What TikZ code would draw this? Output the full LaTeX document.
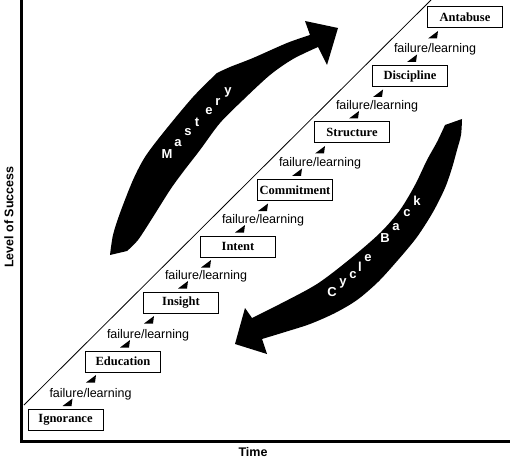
\documentclass[tikz,border=0pt]{standalone}
\usepackage{fontspec}
\setmainfont{Liberation Serif}
\newfontfamily\sansf{Liberation Sans}
\usetikzlibrary{calc}
\begin{document}
\begin{tikzpicture}[x=1pt,y=-1pt,
  stage/.style={draw, line width=1pt, minimum width=75pt, minimum height=21pt, inner sep=0pt,
    font=\fontsize{12.5}{14}\selectfont\bfseries},
  fl/.style={font=\sansf\fontsize{12.5}{14}\selectfont, inner sep=0pt, anchor=base},
  bigletter/.style={font=\sansf\bfseries\fontsize{13}{15}\selectfont, text=white, inner sep=0pt},
  axislabel/.style={font=\sansf\bfseries\fontsize{12.5}{14}\selectfont, inner sep=0pt},
  tinyarrow/.pic={\fill (-5,3.5) -- (4,3.5) -- (5,-4) -- (3,-2.5) -- cycle;}
]
\useasboundingbox (0,0) rectangle (510,462);
% axes
\coordinate (ytop) at (21,0);
\coordinate (origin) at (21,441);
\coordinate (xend) at (510,441);
\draw[line width=3pt, line join=miter] (ytop) -- (origin) -- (xend);
\node[axislabel, rotate=90] (ylab) at (9,217) {Level of Success};
\node[axislabel] (xlab) at (253,452) {Time};
% diagonal
\coordinate (d0) at (24,405);
\coordinate (d1) at (431,0);
\draw[line width=0.8pt] (d0) -- (d1);
% stages
\node[stage] (Ignorance) at (65.5,420) {Ignorance};
\node[stage] (Education) at (123,361.5) {Education};
\node[stage] (Insight) at (181,302.5) {Insight};
\node[stage] (Intent) at (238,246.5) {Intent};
\node[stage] (Commitment) at (295,190) {Commitment};
\node[stage] (Structure) at (352,132.5) {Structure};
\node[stage] (Discipline) at (410,76) {Discipline};
\node[stage] (Antabuse) at (465,17.5) {Antabuse};
% failure/learning steps
\foreach \lo/\hi/\n in {Ignorance/Education/1, Education/Insight/2, Insight/Intent/3,
  Intent/Commitment/4, Commitment/Structure/5, Structure/Discipline/6, Discipline/Antabuse/7}{
  \node[fl] (fl\n) at ($(\lo.center)+(25,-23)$) {failure/learning};
  \pic at ($(\lo.center)+(2,-17.5)$) {tinyarrow};
  \pic at ($(\hi.center)+(-32,17.5)$) {tinyarrow};
}
% Mastery arrow
\fill (110,255) -- (127,251)
  -- plot[smooth, tension=0.5] coordinates {(127,251) (138,240) (153,217) (170,190) (183,172) (200,150) (220,123) (243,100) (270,75) (293,59) (318,47)}
  -- (327,65) -- (338,28) -- (305,21) -- (310,35)
  -- plot[smooth, tension=0.5] coordinates {(310,35) (287,43) (253,58) (230,67) (217,73)}
  -- plot[smooth, tension=0.5] coordinates {(217,73) (193,97) (163,133) (145,157) (133,180) (120,213) (113,235) (110,255)}
  -- cycle;
\node[bigletter] (mM) at (167,154) {M};
\node[bigletter] (ma) at (178,143) {a};
\node[bigletter] (ms) at (188,132) {s};
\node[bigletter] (mt) at (197,122) {t};
\node[bigletter] (me) at (209,111) {e};
\node[bigletter] (mr) at (218,102) {r};
\node[bigletter] (my) at (228,92) {y};
% Cycle Back arrow
\fill (445,125) -- (462,119)
  -- plot[smooth, tension=0.5] coordinates {(462,119) (461,135) (457,150) (452,168) (445,188) (433,212) (417,237) (398,260) (378,282) (357,300) (335,313) (310,324) (285,332) (262,339)}
  -- (267,354) -- (235,344) -- (245,308) -- (252,318)
  -- plot[smooth, tension=0.5] coordinates {(252,318) (280,304) (317,284) (350,259) (380,233) (400,210) (415,185) (427,160) (437,142) (445,125)}
  -- cycle;
\node[bigletter] (cC) at (332,292) {C};
\node[bigletter] (cy) at (343,283) {y};
\node[bigletter] (cc) at (353,275) {c};
\node[bigletter] (cl) at (360,267) {l};
\node[bigletter] (ce) at (368,258) {e};
\node[bigletter] (cB) at (385,238) {B};
\node[bigletter] (ca) at (396,227) {a};
\node[bigletter] (cc2) at (407,213) {c};
\node[bigletter] (ck) at (417,201) {k};
\end{tikzpicture}
\end{document}
